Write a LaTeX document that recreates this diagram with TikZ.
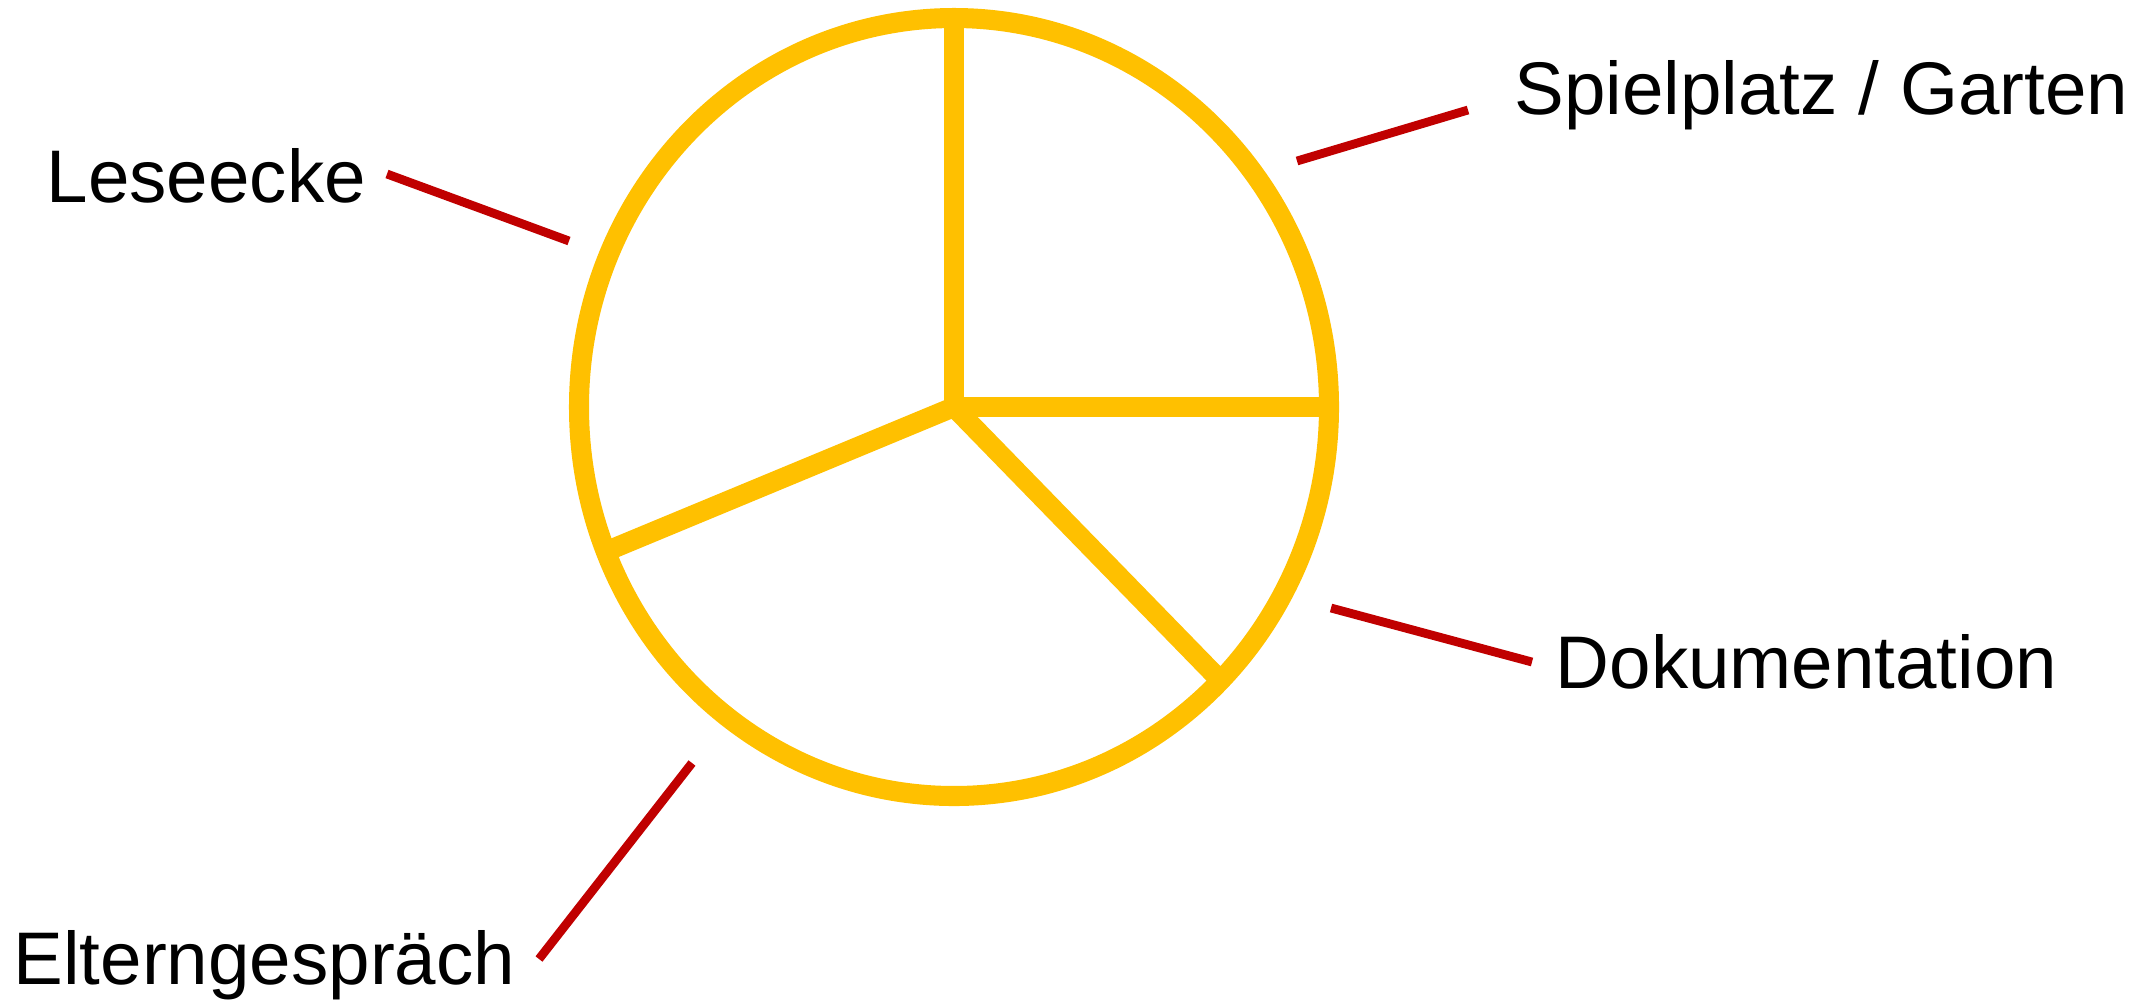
\documentclass[tikz,border=0pt]{standalone}
\usepackage{fontspec}
\setsansfont{Liberation Sans}
\usepackage{tikz}
\usepackage{xcolor}
\usetikzlibrary{positioning, calc}
\definecolor{cPie}  {HTML}{FFC000}
\definecolor{cLead} {HTML}{C00000}

\begin{document}
\begin{tikzpicture}[x=0.01cm, y=-0.01cm]
        \useasboundingbox (0,0) rectangle (2136,999);
        % pie outline and the four sector borders
        \tikzset{pieline/.style={draw=cPie, line width=5.7pt},
                 leader/.style={draw=cLead, line width=2.5pt},
                 lbl/.style={font=\sffamily\fontsize{21.2}{25}\selectfont, inner sep=0pt, anchor=base west}}
        \coordinate (ctr) at (954,407);
        \draw[pieline] (ctr) ellipse [x radius=375, y radius=389];
        \coordinate (sTop)   at (954,18);
        \coordinate (sRight) at (1329,407);
        \coordinate (sDiag)  at (1217,677);
        \coordinate (sLeft)  at (607,551);
        \foreach \s in {sTop, sRight, sDiag, sLeft}{
          \draw[pieline, line cap=butt] (ctr) -- (\s);
        }
        % labels
        \node[lbl] (lese)  at (46,202)  {Leseecke};
        \node[lbl] (spiel) at (1514,114) {Spielplatz / Garten};
        \node[lbl] (doku)  at (1555,688) {Dokumentation};
        \node[lbl] (eltern) at (13,984) {Elterngespräch};
        % leader lines
        \coordinate (leseA)   at (387,174);  \coordinate (leseB)   at (569,241);
        \coordinate (spielA)  at (1297,161); \coordinate (spielB)  at (1468,110);
        \coordinate (dokuA)   at (1331,608); \coordinate (dokuB)   at (1532,662);
        \coordinate (elternA) at (692,763);  \coordinate (elternB) at (539,959);
        \draw[leader] (leseA) -- (leseB);
        \draw[leader] (spielA) -- (spielB);
        \draw[leader] (dokuA) -- (dokuB);
        \draw[leader] (elternA) -- (elternB);
      \end{tikzpicture}
\end{document}
